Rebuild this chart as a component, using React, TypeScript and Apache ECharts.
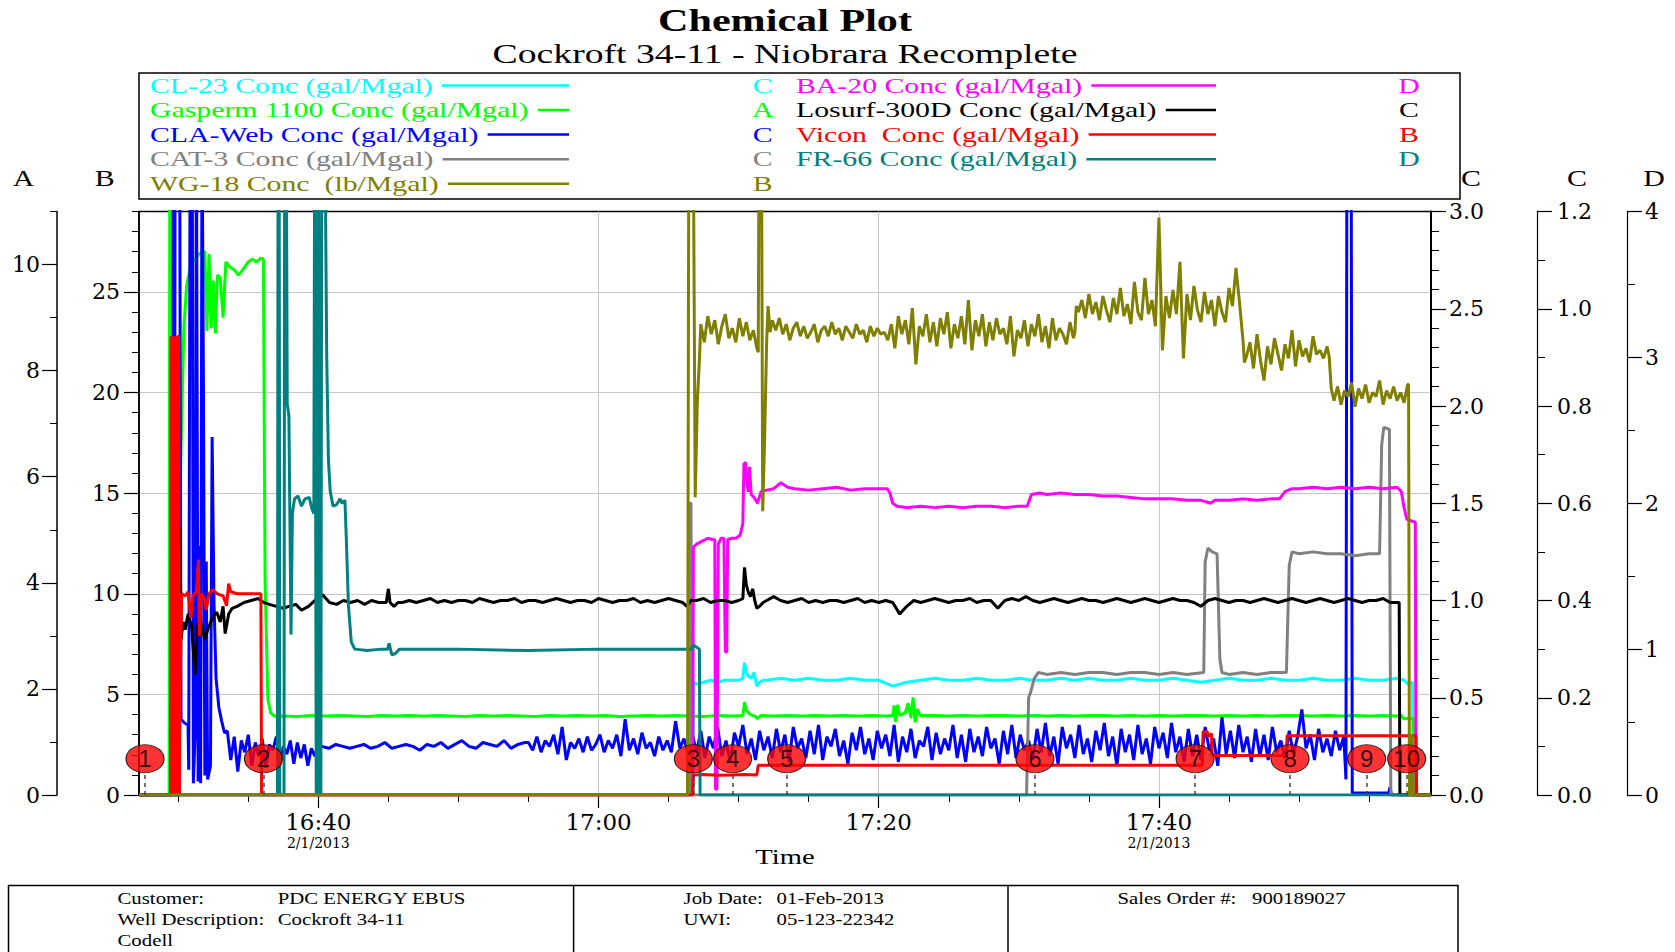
import React, { useEffect, useRef } from 'react';
import * as echarts from 'echarts';

type P = [number, number];

const SERIF = '"Liberation Serif", "Times New Roman", serif';
const WIDE_SERIF = '"DejaVu Serif", serif';
const SANS = '"Liberation Sans", Arial, sans-serif';

// ---- time axis (minutes after 16:00, 2/1/2013) ----
const X_MIN = 27.2;
const X_MAX = 119.42;
const minorTickTimes = [30, 35, 40, 45, 50, 55, 60, 65, 70, 75, 80, 85, 90, 95, 100, 105, 110, 115];
const majorTickTimes = [40, 60, 80, 100];
const dateLabelTimes = [40, 100];
const dateText = '2/1/2013';

// ---- axis scales ----
const axisA = { min: 0, max: 11, major: [0, 2, 4, 6, 8, 10] };
const axisB = { min: 0, max: 29, major: [0, 5, 10, 15, 20, 25] };

// ---- event markers ----
const eventTimes = [27.63, 36.08, 66.77, 69.57, 73.43, 91.15, 102.58, 109.36, 114.83, 117.68];
const eventLevel = 1.8;

const seg = (t0: number, dt: number, vals: number[]): P[] =>
  vals.map((v, i) => [Math.round((t0 + i * dt) * 1000) / 1000, v] as P);

// ---- WG-18 (lb/Mgal), axis B ----
const wg18Head: P[] = [[27.2, 0], [66.35, 0], [66.45, 35], [66.75, 35], [66.9, 14.8], [67.05, 19.5], [67.2, 21.6]];
const wg18A = [23.4, 22.5, 23.8, 22.9, 23.6, 22.4, 23.3, 23.9, 22.7, 23.2, 22.5, 23.7, 22.8, 23.5, 22.6, 23.1];
const wg18Mid: P[] = [[71.3, 22.2], [71.4, 22.0], [71.47, 35], [71.62, 35], [71.72, 14.1], [71.85, 17.5], [72.0, 22.5], [72.1, 24.3], [72.25, 23.0]];
const wg18B = [
  23.6, 23.1, 23.7, 22.9, 23.4, 22.6, 23.2, 23.5, 22.8, 23.3, 22.7, 23.0, 23.4, 22.5, 23.1, 23.3, 22.8, 23.5, 22.9, 23.2,
  22.6, 23.3, 23.0, 22.7, 23.4, 22.9, 23.1, 22.5, 23.3, 22.8, 23.2, 22.9, 23.0,
  22.6, 23.4, 22.2, 23.8, 22.9, 23.6, 22.4, 24.2, 21.4, 23.3, 22.8, 23.9, 22.5, 23.5, 22.3, 23.7, 22.9, 24.0, 22.2, 23.4,
  22.7, 23.8, 22.4, 24.6, 22.1, 23.6, 22.8, 23.9, 22.3, 23.5, 22.6, 23.7, 22.9, 23.2, 22.4, 23.8, 21.8, 23.1, 22.7, 23.6,
  22.3, 23.4, 22.8, 23.9, 22.5, 23.3, 22.2, 23.7, 22.6, 23.2, 22.9, 22.4, 23.5, 22.7,
];
const wg18Step1: P[] = [[94.0, 23.0], [94.1, 24.3]];
const wg18C = [
  24.0, 24.6, 23.7, 24.9, 23.9, 24.5, 23.6, 24.8, 24.1, 23.5, 24.7, 23.9, 25.2, 23.8, 24.4, 23.4, 25.5, 24.0, 23.6, 25.7,
  23.9, 24.6, 23.3, 28.7, 22.1, 24.8, 23.7, 25.1, 23.9, 26.5, 21.7, 24.9, 23.6, 25.3, 24.1, 23.5, 25.0, 23.9, 24.6, 23.3,
  24.8, 24.0, 23.5, 25.2, 24.3, 26.2, 24.5,
];
const wg18Step2: P[] = [[106.0, 22.6], [106.1, 21.5]];
const wg18D = [21.8, 22.5, 21.2, 22.9, 21.6, 20.6, 22.3, 21.4, 22.7, 21.9, 21.1, 22.4, 21.7, 23.1, 21.3, 22.6, 21.8, 22.2, 21.5, 22.8, 21.9, 22.1, 21.7, 22.3];
const wg18Step3: P[] = [[112.15, 21.8], [112.3, 20.2]];
const wg18E = [19.6, 20.3, 19.4, 20.1, 19.8, 20.5, 19.3, 20.2, 19.7, 20.4, 19.5, 20.0, 19.8, 20.6, 19.4, 20.1, 19.7, 20.3, 19.6, 20.0, 19.5, 20.4];
const wg18Tail: P[] = [[117.82, 20.4], [117.88, 0], [118.0, 0], [118.05, 3], [118.15, 0], [119.42, 0]];

// ---- CLA-Web (gal/Mgal), axis C ----
const claHead: P[] = [[27.2, 0], [29.6, 0], [29.65, 3.5], [29.72, 0.05], [29.78, 3.5], [30.1, 3.5], [30.2, 0.39], [30.45, 0.37], [30.7, 0.36], [30.75, 0.13], [30.85, 3.5], [31.0, 3.5], [31.08, 0.06], [31.2, 0.3], [31.3, 3.5], [31.42, 0.07], [31.52, 1.28], [31.6, 0.06], [31.7, 3.5], [31.8, 2.1], [31.9, 0.1], [32.0, 1.2], [32.1, 0.08], [32.3, 0.15], [32.42, 1.84], [32.55, 1.0], [32.7, 0.6], [32.9, 0.45], [33.1, 0.38], [33.3, 0.32]];
const claA = [0.33, 0.18, 0.30, 0.12, 0.28, 0.22, 0.31, 0.15, 0.27, 0.20, 0.29, 0.14, 0.26, 0.23, 0.30, 0.17, 0.25, 0.21, 0.28, 0.16, 0.27, 0.19, 0.26, 0.15, 0.24, 0.20, 0.26];
const claB = [0.25, 0.24, 0.26, 0.25, 0.24, 0.25, 0.26, 0.24, 0.25, 0.27, 0.24, 0.25, 0.26, 0.25, 0.23, 0.26, 0.25, 0.27, 0.24, 0.26, 0.28, 0.25, 0.24, 0.27, 0.26, 0.25, 0.28, 0.24, 0.26, 0.27];
const claC = [
  0.27, 0.23, 0.30, 0.22, 0.28, 0.25, 0.31, 0.21, 0.35, 0.18, 0.27, 0.24, 0.29, 0.22, 0.30, 0.23, 0.26, 0.31, 0.22, 0.28,
  0.24, 0.31, 0.20, 0.39, 0.23, 0.29, 0.21, 0.32, 0.24, 0.27, 0.20, 0.30, 0.23, 0.28, 0.22, 0.38, 0.24, 0.29, 0.21, 0.31,
  0.22, 0.33, 0.19, 0.30, 0.24, 0.35, 0.20, 0.28, 0.17, 0.32, 0.25, 0.36, 0.21, 0.29, 0.18, 0.33, 0.23, 0.30, 0.19, 0.34,
  0.22, 0.31, 0.17, 0.35, 0.24, 0.29, 0.19, 0.33, 0.21, 0.36, 0.18, 0.30, 0.25, 0.34, 0.20, 0.28, 0.16, 0.32, 0.23, 0.35,
  0.21, 0.29, 0.18, 0.33, 0.24, 0.31, 0.20, 0.36, 0.17, 0.30, 0.22, 0.34, 0.19, 0.28, 0.25, 0.35, 0.18, 0.32, 0.21, 0.29,
  0.23, 0.36, 0.19, 0.31, 0.17, 0.34, 0.22, 0.30, 0.20, 0.35, 0.24, 0.29, 0.16, 0.33, 0.21, 0.36, 0.19, 0.31, 0.23, 0.28,
  0.18, 0.34, 0.22, 0.37, 0.20, 0.30, 0.16, 0.35, 0.24, 0.31, 0.19, 0.36, 0.21, 0.29, 0.17, 0.33, 0.23, 0.37, 0.20, 0.30,
  0.15, 0.34, 0.22, 0.31, 0.18, 0.36, 0.21, 0.29, 0.16, 0.35, 0.24, 0.32, 0.19, 0.37, 0.22, 0.30, 0.17, 0.34, 0.20, 0.31,
  0.18, 0.35, 0.23, 0.29, 0.15, 0.40, 0.21, 0.33, 0.19, 0.36, 0.22, 0.30, 0.17, 0.34, 0.20, 0.31, 0.18, 0.35, 0.22, 0.28,
  0.19, 0.33, 0.21, 0.30, 0.44, 0.24, 0.31, 0.18, 0.34, 0.22, 0.29, 0.20, 0.33, 0.23, 0.30,
];
const claTail: P[] = [[113.35, 0.08], [113.42, 3.5], [113.72, 3.5], [113.8, 0.01], [116.4, 0.01], [116.5, 0.04], [116.6, 0], [119.42, 0]];

// ---- Losurf-300D (gal/Mgal), axis C ----
const losHead: P[] = [[27.2, 0], [30.08, 0], [30.13, 1.375], [30.2, 0.8], [30.35, 0.89], [30.5, 0.85], [30.7, 0.93], [30.95, 0.87], [31.2, 0.62], [31.35, 0.86], [31.55, 0.91], [31.7, 0.86], [31.9, 0.8], [32.15, 0.86], [32.5, 0.92], [32.75, 0.94], [33.0, 0.89], [33.2, 0.97], [33.35, 0.83], [33.6, 0.93], [33.85, 0.96], [34.2, 0.97], [34.7, 0.99], [35.2, 1.0], [35.7, 1.01], [36.1, 0.99], [36.5, 0.98], [37.0, 0.97], [37.5, 0.96], [37.9, 0.97], [38.4, 0.98], [38.8, 0.95], [39.3, 0.97], [39.9, 1.01], [40.3, 1.03], [40.8, 0.99], [41.3, 0.98], [41.8, 1.0], [42.3, 0.99], [42.8, 1.0], [43.3, 0.98], [43.8, 1.0], [44.3, 0.99], [44.85, 0.99], [45.0, 1.06], [45.12, 0.99], [45.4, 0.97], [45.7, 0.99]];
const losMid = [0.99, 1.0, 0.99, 1.0, 1.01, 0.99, 1.0, 0.99, 1.0, 1.0, 0.99, 1.01, 1.0, 0.99, 1.0, 1.0, 1.01, 0.99, 1.0, 1.0, 0.99, 1.0, 1.01, 1.0, 0.99, 1.0, 1.0, 0.99, 1.01, 1.0, 0.99, 1.0, 1.0, 1.01, 0.99, 1.0, 0.99, 1.0, 1.01, 1.0, 0.99];
const losBump: P[] = [[66.3, 0.97], [66.6, 1.0], [67.0, 1.0], [67.5, 1.01], [68.0, 0.99], [68.5, 1.0], [69.0, 1.0], [69.5, 0.99], [70.0, 1.0], [70.3, 1.01], [70.42, 1.17], [70.55, 1.08], [70.7, 1.04], [70.85, 1.02], [71.0, 1.06], [71.15, 1.0], [71.3, 0.96], [71.5, 0.97], [71.75, 0.99]];
const losLate = [
  1.0, 1.02, 1.0, 0.99, 1.0, 1.01, 0.99, 1.0, 0.99, 1.0, 1.0, 0.99, 1.0, 1.01, 0.99, 1.0, 0.99, 1.0, 0.99, 0.93,
  0.97, 1.0, 0.99, 1.0, 1.01, 1.0, 0.99, 1.0, 1.0, 1.01, 0.99, 1.0, 1.0, 0.96, 1.0, 1.01, 1.0, 1.02, 1.0, 0.99,
  1.0, 1.01, 1.0, 0.99, 1.0, 1.01, 1.0, 1.0, 0.99, 1.0, 1.01, 1.0, 0.99, 1.0, 1.01, 1.0, 0.99, 1.0, 1.01, 1.0,
  1.0, 0.99, 0.97, 1.0, 1.01, 1.0, 0.99, 1.0, 1.0, 0.99, 1.0, 1.01, 1.0, 0.99, 1.0, 1.01, 1.0, 0.99, 1.0, 1.01,
  1.0, 0.99, 1.0, 1.01, 1.0, 0.99, 1.0, 1.0, 1.01, 0.99, 0.99,
];
const losTail: P[] = [[117.15, 0.99], [117.2, 0], [119.42, 0]];

// ---- CL-23 (gal/Mgal), axis C ----
const cl23Head: P[] = [[27.2, 0], [66.74, 0], [66.8, 0.58], [67.0, 0.57], [67.5, 0.58], [68.0, 0.59], [68.5, 0.58], [69.0, 0.59], [69.5, 0.59], [70.0, 0.59], [70.3, 0.6], [70.42, 0.68], [70.55, 0.63], [70.7, 0.61], [70.9, 0.6], [71.1, 0.63], [71.3, 0.56], [71.5, 0.58], [71.75, 0.59]];
const cl23Mid = [0.59, 0.6, 0.59, 0.6, 0.59, 0.59, 0.6, 0.59, 0.59, 0.56, 0.58, 0.59, 0.6, 0.59, 0.59, 0.6, 0.59, 0.59, 0.6, 0.59, 0.59, 0.6, 0.59, 0.6, 0.59, 0.59, 0.6, 0.59, 0.59, 0.6, 0.59, 0.58, 0.59, 0.6, 0.59, 0.59, 0.6, 0.59, 0.59, 0.6, 0.59, 0.59, 0.6, 0.59, 0.59, 0.6];
const cl23Tail: P[] = [[117.5, 0.59], [117.8, 0.57], [118.1, 0.58], [118.15, 0], [119.42, 0]];

// ---- Gasperm 1100 (gal/Mgal), axis A ----
const gasHead: P[] = [[27.2, 0], [29.35, 0], [29.4, 13], [29.55, 13], [29.7, 3], [30.0, 3.0], [30.2, 6.5], [30.4, 8.8], [30.6, 9.6], [30.9, 10.0], [31.2, 10.1], [31.5, 10.2], [31.9, 10.25], [32.05, 8.75], [32.2, 10.2], [32.35, 8.8], [32.5, 9.7], [32.65, 8.7], [32.8, 9.8], [33.0, 9.75], [33.2, 9.0], [33.4, 10.05], [33.7, 9.95], [34.0, 9.9], [34.3, 9.8], [34.6, 9.9], [35.0, 10.05], [35.3, 10.1], [35.6, 10.05], [35.9, 10.12], [36.08, 10.1], [36.2, 4.0], [36.4, 1.8], [36.6, 1.55], [36.9, 1.48]];
const gasMid = [1.49, 1.48, 1.5, 1.49, 1.5, 1.49, 1.48, 1.5, 1.49, 1.5, 1.49, 1.5, 1.49, 1.48, 1.5, 1.49, 1.5, 1.49, 1.48, 1.5, 1.49, 1.5, 1.49, 1.5, 1.48, 1.49, 1.5, 1.49, 1.5, 1.49, 1.48, 1.5, 1.49];
const gasBumps: P[] = [[70.3, 1.5], [70.42, 1.75], [70.55, 1.6], [70.8, 1.52], [71.2, 1.48], [71.35, 1.44], [71.6, 1.5], [72.5, 1.49], [73.5, 1.5], [74.5, 1.49], [75.5, 1.5], [76.5, 1.49], [77.5, 1.5], [78.5, 1.49], [79.5, 1.5], [80.5, 1.49], [81.0, 1.5], [81.1, 1.69], [81.2, 1.38], [81.35, 1.7], [81.5, 1.5], [81.9, 1.55], [82.1, 1.73], [82.3, 1.45], [82.45, 1.84], [82.6, 1.37], [82.75, 1.62], [82.95, 1.5]];
const gasLate = [1.5, 1.49, 1.5, 1.49, 1.5, 1.5, 1.49, 1.5, 1.49, 1.5, 1.49, 1.5, 1.5, 1.49, 1.5, 1.49, 1.5, 1.49, 1.5, 1.5, 1.49, 1.5, 1.49, 1.5, 1.49, 1.5, 1.5, 1.49, 1.5, 1.49, 1.5, 1.49, 1.5, 1.49];
const gasTail: P[] = [[117.3, 1.5], [117.45, 1.44], [118.15, 1.44], [118.2, 0], [119.42, 0]];

// ---- Vicon (gal/Mgal), axis B ----
const viconPts: P[] = [[27.2, 0], [29.45, 0], [29.48, 22.8], [29.55, 0], [29.6, 22.8], [29.67, 0], [29.72, 22.8], [29.79, 0], [29.84, 22.8], [29.91, 0], [29.96, 22.8], [30.03, 22.8], [30.08, 0], [30.12, 5], [30.25, 10.0], [30.5, 9.9], [30.7, 10.1], [30.9, 8.8], [31.05, 9.9], [31.3, 10.1], [31.45, 11.7], [31.5, 7.9], [31.65, 10.0], [31.85, 9.8], [32.0, 9.2], [32.2, 10.0], [32.45, 10.2], [32.8, 10.0], [33.2, 9.9], [33.45, 9.4], [33.6, 10.5], [33.75, 10.1], [34.2, 10.0], [35.0, 10.0], [35.9, 10.0], [35.95, 0], [66.7, 0], [66.77, 1.0], [67.5, 1.02], [68.5, 0.98], [69.5, 1.0], [70.5, 1.02], [71.3, 1.0], [71.4, 1.48], [103.1, 1.48], [103.15, 3.14], [103.45, 3.14], [103.5, 2.9], [103.65, 3.0], [103.75, 3.05], [103.8, 1.96], [109.1, 1.96], [109.15, 2.95], [118.35, 2.95], [118.4, 0], [119.42, 0]];

// ---- FR-66 (gal/Mgal), axis D ----
const fr66Pts: P[] = [[27.2, 0], [37.08, 0], [37.13, 5], [37.2, 5], [37.25, 0], [37.55, 0], [37.6, 5], [37.7, 5], [37.78, 2.68], [37.9, 2.6], [38.05, 1.1], [38.15, 1.93], [38.3, 2.03], [38.55, 2.05], [38.8, 1.98], [39.05, 2.03], [39.35, 2.04], [39.55, 1.96], [39.68, 1.93], [39.75, 5], [39.85, 0], [39.95, 0], [40.0, 5], [40.08, 0], [40.18, 0], [40.25, 5], [40.45, 5], [40.5, 4.2], [40.6, 3.0], [40.72, 2.3], [40.85, 2.08], [41.05, 1.98], [41.3, 1.99], [41.55, 2.03], [41.7, 2.0], [41.9, 2.02], [42.0, 1.75], [42.15, 1.3], [42.35, 1.05], [42.6, 1.0], [43.5, 0.99], [44.5, 1.0], [44.95, 1.0], [45.05, 1.04], [45.25, 0.96], [45.5, 0.97], [45.8, 1.0], [47, 1.0], [50, 1.0], [55, 0.99], [60, 1.0], [65, 1.0], [66.7, 1.0], [66.75, 1.03], [67.2, 1.0], [67.25, 0], [119.42, 0]];

// ---- BA-20 (gal/Mgal), axis D ----
const ba20Pts: P[] = [[27.2, 0], [66.72, 0], [66.77, 1.7], [67.0, 1.72], [67.4, 1.74], [67.8, 1.76], [68.2, 1.75], [68.3, 1.75], [68.35, 0.04], [68.45, 0.04], [68.55, 1.72], [68.75, 1.76], [68.95, 1.76], [69.05, 0.98], [69.15, 0.98], [69.22, 1.75], [69.5, 1.76], [69.8, 1.76], [70.1, 1.78], [70.2, 1.82], [70.3, 1.86], [70.38, 2.27], [70.5, 2.28], [70.6, 2.12], [70.7, 2.08], [70.78, 2.25], [70.9, 2.06], [71.1, 2.04], [71.35, 2.0], [71.6, 2.08], [72.0, 2.09], [72.5, 2.1], [73.0, 2.14], [73.5, 2.11], [74, 2.1], [75, 2.09], [76, 2.1], [77, 2.11], [78, 2.09], [79, 2.1], [80, 2.1], [80.6, 2.1], [80.8, 2.07], [81.0, 2.0], [81.3, 1.98], [82, 1.97], [83, 1.98], [84, 1.97], [85, 1.98], [86, 1.97], [87, 1.98], [88, 1.98], [89, 1.97], [90, 1.98], [90.6, 1.98], [90.9, 2.06], [91.5, 2.07], [92, 2.06], [93, 2.07], [94, 2.06], [95, 2.06], [96, 2.05], [97, 2.05], [98, 2.04], [99, 2.03], [100, 2.03], [101, 2.03], [102, 2.02], [103, 2.02], [103.7, 2.0], [104, 2.02], [105, 2.02], [106, 2.03], [107, 2.02], [108, 2.03], [108.6, 2.03], [109.0, 2.08], [109.5, 2.1], [110, 2.1], [111, 2.11], [112, 2.1], [113, 2.11], [114, 2.1], [115, 2.11], [116, 2.1], [117, 2.11], [117.3, 2.08], [117.5, 1.97], [117.7, 1.89], [118.3, 1.87], [118.35, 0], [119.42, 0]];

// ---- CAT-3 (gal/Mgal), axis C ----
const cat3Pts: P[] = [[27.2, 0], [66.45, 0], [66.5, 1.5], [66.6, 1.5], [66.65, 0], [90.55, 0], [90.7, 0.5], [90.85, 0.53], [91.1, 0.6], [91.4, 0.63], [92, 0.62], [93, 0.63], [94, 0.62], [95, 0.63], [96, 0.63], [97, 0.62], [98, 0.63], [99, 0.63], [100, 0.62], [101, 0.63], [102, 0.62], [103.2, 0.63], [103.3, 1.2], [103.5, 1.27], [103.8, 1.25], [104.15, 1.24], [104.35, 0.7], [104.5, 0.63], [105, 0.62], [106, 0.63], [107, 0.62], [108, 0.63], [109.1, 0.63], [109.3, 1.18], [109.5, 1.25], [110, 1.24], [111, 1.25], [112, 1.24], [113, 1.24], [114, 1.23], [115, 1.24], [115.75, 1.24], [115.9, 1.8], [116.05, 1.89], [116.45, 1.88], [116.55, 0], [119.42, 0]];

// ---- legend ----
const legendLeft = [
  { name: 'CL-23 Conc (gal/Mgal)', color: '#00ffff', axis: 'C' },
  { name: 'Gasperm 1100 Conc (gal/Mgal)', color: '#00ff00', axis: 'A' },
  { name: 'CLA-Web Conc (gal/Mgal)', color: '#0000ff', axis: 'C' },
  { name: 'CAT-3 Conc (gal/Mgal)', color: '#808080', axis: 'C' },
  { name: 'WG-18 Conc  (lb/Mgal)', color: '#808000', axis: 'B' },
];
const legendRight = [
  { name: 'BA-20 Conc (gal/Mgal)', color: '#ff00ff', axis: 'D' },
  { name: 'Losurf-300D Conc (gal/Mgal)', color: '#000000', axis: 'C' },
  { name: 'Vicon  Conc (gal/Mgal)', color: '#ff0000', axis: 'B' },
  { name: 'FR-66 Conc (gal/Mgal)', color: '#008080', axis: 'D' },
];

// ---- info table ----
const tableCells = [
  { text: 'Customer:', x: 117.5, row: 0 },
  { text: 'PDC ENERGY EBUS', x: 277.7, row: 0 },
  { text: 'Well Description:', x: 117.5, row: 1 },
  { text: 'Cockroft 34-11', x: 277.7, row: 1 },
  { text: 'Codell', x: 117.5, row: 2 },
  { text: 'Job Date:', x: 683.6, row: 0 },
  { text: '01-Feb-2013', x: 776.6, row: 0 },
  { text: 'UWI:', x: 683.6, row: 1 },
  { text: '05-123-22342', x: 776.6, row: 1 },
  { text: 'Sales Order #:', x: 1117.4, row: 0 },
  { text: '900189027', x: 1252, row: 0 },
];

function measure(text: string, font: string): number {
  const c = document.createElement('canvas').getContext('2d');
  if (!c) return text.length * 10;
  c.font = font;
  return c.measureText(text).width;
}

function textEl(text: string, x: number, y: number, size: number, color: string, align: string, sx: number, bold = false, family = SERIF) {
  return {
    type: 'text', x, y, scaleX: sx, silent: true, z: 50,
    style: {
      text, fill: color, fontSize: size, fontFamily: family, fontWeight: bold ? 'bold' : 'normal',
      align, verticalAlign: 'middle', textAlign: align, textVerticalAlign: 'middle',
    },
  };
}

export default function App() {
  const ref = useRef<HTMLDivElement>(null);

  useEffect(() => {
    if (!ref.current) return;
    const chart = echarts.init(ref.current, null, { renderer: 'svg' });

    const wg18 = [...wg18Head, ...seg(67.3, 0.25, wg18A), ...wg18Mid, ...seg(72.4, 0.25, wg18B), ...wg18Step1, ...seg(94.25, 0.25, wg18C), ...wg18Step2, ...seg(106.25, 0.25, wg18D), ...wg18Step3, ...seg(112.5, 0.25, wg18E), ...wg18Tail];
    const cla = [...claHead, ...seg(33.5, 0.25, claA), ...seg(40.25, 0.5, claB), ...seg(55.0, 0.3, claC), ...claTail];
    const los = [...losHead, ...seg(46.0, 0.5, losMid), ...losBump, ...seg(72.0, 0.5, losLate), ...losTail];
    const cl23 = [...cl23Head, ...seg(72, 1, cl23Mid), ...cl23Tail];
    const gas = [...gasHead, ...seg(37.5, 1, gasMid), ...gasBumps, ...seg(84, 1, gasLate), ...gasTail];

    const line = (name: string, color: string, yAxisIndex: number, data: P[]) => ({
      name, type: 'line', xAxisIndex: 0, yAxisIndex, data, showSymbol: false, symbol: 'none',
      lineStyle: { color, width: 3 }, itemStyle: { color }, clip: true, silent: true,
    });

    // axis indices: 0 B, 1 B-minor, 2 A, 3 A-minor, 4 C, 5 C(1.2), 6 D
    const series: any[] = [
      line('CL-23 Conc (gal/Mgal)', '#00ffff', 4, cl23),
      line('Gasperm 1100 Conc (gal/Mgal)', '#00ff00', 2, gas),
      line('CLA-Web Conc (gal/Mgal)', '#0000ff', 4, cla),
      line('CAT-3 Conc (gal/Mgal)', '#808080', 4, cat3Pts),
      line('BA-20 Conc (gal/Mgal)', '#ff00ff', 6, ba20Pts),
      line('Losurf-300D Conc (gal/Mgal)', '#000000', 4, los),
      line('Vicon  Conc (gal/Mgal)', '#ff0000', 0, viconPts),
      line('FR-66 Conc (gal/Mgal)', '#008080', 6, fr66Pts),
      line('WG-18 Conc  (lb/Mgal)', '#808000', 0, wg18),
      {
        name: 'events', type: 'scatter', xAxisIndex: 0, yAxisIndex: 0, silent: true, z: 20,
        data: eventTimes.map((t, i) => ({ value: [t, eventLevel], name: String(i + 1) })),
        symbol: 'circle', symbolSize: [38, 28],
        itemStyle: { color: '#ff0000', borderColor: '#000', borderWidth: 1 },
        label: { show: true, position: 'inside', formatter: '{b}', color: '#000', fontSize: 24, fontFamily: SANS },
        markLine: {
          silent: true, symbol: ['none', 'none'], label: { show: false },
          lineStyle: { type: [4, 4], color: '#444', width: 1.5 },
          data: eventTimes.map((t) => [{ coord: [t, 0] }, { coord: [t, 1.1] }]),
        },
      },
    ];

    const axisLabelFont = { fontFamily: WIDE_SERIF, fontSize: 22, color: '#000' };
    const blackLine = (w = 1.5) => ({ show: true, onZero: false, lineStyle: { color: '#000', width: w } });

    const yAxis: any[] = [
      {
        type: 'value', position: 'left', offset: 0, min: axisB.min, max: axisB.max, interval: 5,
        axisLine: blackLine(1.5),
        axisTick: { show: true, length: 15, customValues: axisB.major, lineStyle: { color: '#000', width: 1.2 } },
        axisLabel: { ...axisLabelFont, margin: 19, customValues: axisB.major, formatter: (v: number) => (v >= 29 ? '' : String(v)) },
        splitLine: { show: true, lineStyle: { color: '#c8c8c8', width: 1 } },
      },
      {
        type: 'value', position: 'left', offset: 0, min: axisB.min, max: axisB.max, interval: 1,
        axisLine: { show: false }, axisTick: { show: true, length: 7, lineStyle: { color: '#000', width: 1 } },
        axisLabel: { show: false }, splitLine: { show: false },
      },
      {
        type: 'value', position: 'left', offset: 82, min: axisA.min, max: axisA.max, interval: 2,
        axisLine: blackLine(1.5),
        axisTick: { show: true, length: 15, customValues: axisA.major, lineStyle: { color: '#000', width: 1.2 } },
        axisLabel: { ...axisLabelFont, margin: 17, customValues: axisA.major, formatter: (v: number) => (v >= 11 ? '' : String(v)) },
        splitLine: { show: false },
      },
      {
        type: 'value', position: 'left', offset: 82, min: axisA.min, max: axisA.max, interval: 1,
        axisLine: { show: false }, axisTick: { show: true, length: 7, lineStyle: { color: '#000', width: 1 } },
        axisLabel: { show: false }, splitLine: { show: false },
      },
      {
        type: 'value', position: 'right', offset: 0, min: 0, max: 3, interval: 0.5,
        axisLine: blackLine(2),
        axisTick: { show: true, length: 15, lineStyle: { color: '#000', width: 1.2 } },
        minorTick: { show: true, splitNumber: 5, length: 8, lineStyle: { color: '#000', width: 1 } },
        axisLabel: { ...axisLabelFont, margin: 18, formatter: (v: number) => v.toFixed(1) },
        splitLine: { show: false },
      },
      {
        type: 'value', position: 'right', offset: 106, min: 0, max: 1.2, interval: 0.2,
        axisLine: blackLine(1.2),
        axisTick: { show: true, length: 15, lineStyle: { color: '#000', width: 1.2 } },
        minorTick: { show: true, splitNumber: 2, length: 8, lineStyle: { color: '#000', width: 1 } },
        axisLabel: { ...axisLabelFont, margin: 20, formatter: (v: number) => v.toFixed(1) },
        splitLine: { show: false },
      },
      {
        type: 'value', position: 'right', offset: 196, min: 0, max: 4, interval: 1,
        axisLine: blackLine(1.2),
        axisTick: { show: true, length: 15, lineStyle: { color: '#000', width: 1.2 } },
        minorTick: { show: true, splitNumber: 2, length: 8, lineStyle: { color: '#000', width: 1 } },
        axisLabel: { ...axisLabelFont, margin: 18, formatter: (v: number) => String(Math.round(v)) },
        splitLine: { show: false },
      },
    ];

    const timeLabel = (v: number) => {
      const h = 16 + Math.floor(v / 60);
      const m = Math.round(v % 60);
      const s = `${h}:${m < 10 ? '0' + m : m}`;
      return dateLabelTimes.includes(v) ? `{t|${s}}\n{d|${dateText}}` : `{t|${s}}`;
    };

    const xAxis: any[] = [
      {
        type: 'value', position: 'bottom', min: X_MIN, max: X_MAX,
        axisLine: blackLine(1.5),
        axisTick: { show: true, length: 7, customValues: minorTickTimes, lineStyle: { color: '#000', width: 1 } },
        axisLabel: { show: false }, splitLine: { show: false },
      },
      {
        type: 'value', position: 'bottom', min: X_MIN, max: X_MAX,
        axisLine: { show: false, onZero: false },
        axisTick: { show: true, length: 13, customValues: majorTickTimes, lineStyle: { color: '#000', width: 1.2 } },
        axisLabel: {
          show: true, customValues: majorTickTimes, margin: 15, formatter: timeLabel, color: '#000',
          rich: {
            t: { fontFamily: WIDE_SERIF, fontSize: 23, lineHeight: 24, color: '#000' },
            d: { fontFamily: WIDE_SERIF, fontSize: 14, lineHeight: 17, color: '#000' },
          },
        },
        splitLine: { show: true, lineStyle: { color: '#c8c8c8', width: 1 } },
      },
    ];

    // ---- graphics: titles, legend, axis letters, table ----
    const g: any[] = [];
    const titleFont = `bold 32px ${SERIF}`;
    g.push(textEl('Chemical Plot', 785, 20, 32, '#000', 'center', 254 / measure('Chemical Plot', titleFont), true));
    const subT = 'Cockroft 34-11 - Niobrara Recomplete';
    g.push(textEl(subT, 785, 53, 28, '#000', 'center', 585 / measure(subT, `28px ${SERIF}`)));

    g.push({ type: 'rect', shape: { x: 139, y: 73, width: 1321, height: 126 }, style: { fill: '#fff', stroke: '#000', lineWidth: 1.5 }, z: 40, silent: true });
    const lf = 22;
    const lFont = `${lf}px ${SERIF}`;
    const lsx = 283 / measure('CL-23 Conc (gal/Mgal)', lFont);
    const rowsY = [85.5, 110, 134.6, 159.2, 183.7];
    const cols = [
      { items: legendLeft, x: 150, lineEnd: 569, letterX: 762.7 },
      { items: legendRight, x: 796, lineEnd: 1216, letterX: 1409 },
    ];
    cols.forEach((col) => {
      col.items.forEach((it, i) => {
        const y = rowsY[i];
        g.push(textEl(it.name, col.x, y, lf, it.color, 'left', lsx));
        const w = measure(it.name, lFont) * lsx;
        g.push({ type: 'line', shape: { x1: col.x + w + 9, y1: y, x2: col.lineEnd, y2: y }, style: { stroke: it.color, lineWidth: 2.5 }, z: 50, silent: true });
        g.push(textEl(it.axis, col.letterX, y, lf, it.color, 'center', lsx));
      });
    });

    const letters = [
      { t: 'A', x: 23.5 }, { t: 'B', x: 104.7 }, { t: 'C', x: 1471 }, { t: 'C', x: 1577 }, { t: 'D', x: 1654 },
    ];
    letters.forEach((l) => g.push(textEl(l.t, l.x, 178, 23, '#000', 'center', 1.3)));
    g.push(textEl('Time', 785, 857, 22, '#000', 'center', 1.3));

    g.push({ type: 'rect', shape: { x: 8.5, y: 885.5, width: 1449.5, height: 90 }, style: { fill: 'none', stroke: '#000', lineWidth: 1.5 }, z: 40, silent: true });
    [573.6, 1008].forEach((x) => g.push({ type: 'line', shape: { x1: x, y1: 885.5, x2: x, y2: 952 }, style: { stroke: '#000', lineWidth: 1.5 }, z: 40, silent: true }));
    const tRows = [898.4, 919.7, 940];
    tableCells.forEach((c) => g.push(textEl(c.text, c.x, tRows[c.row], 16, '#000', 'left', 1.3)));

    const option: any = {
      animation: false,
      backgroundColor: '#ffffff',
      grid: { left: 139, right: 244, top: 211.5, bottom: 157, show: true, borderColor: '#000', borderWidth: 1.5, containLabel: false, outerBoundsMode: 'none' },
      xAxis,
      yAxis,
      series,
      graphic: g,
    };
    chart.setOption(option);
    return () => chart.dispose();
  }, []);

  return <div ref={ref} style={{ position: 'fixed', left: 0, top: 0, width: 1675, height: 952, background: '#fff' }} />;
}
